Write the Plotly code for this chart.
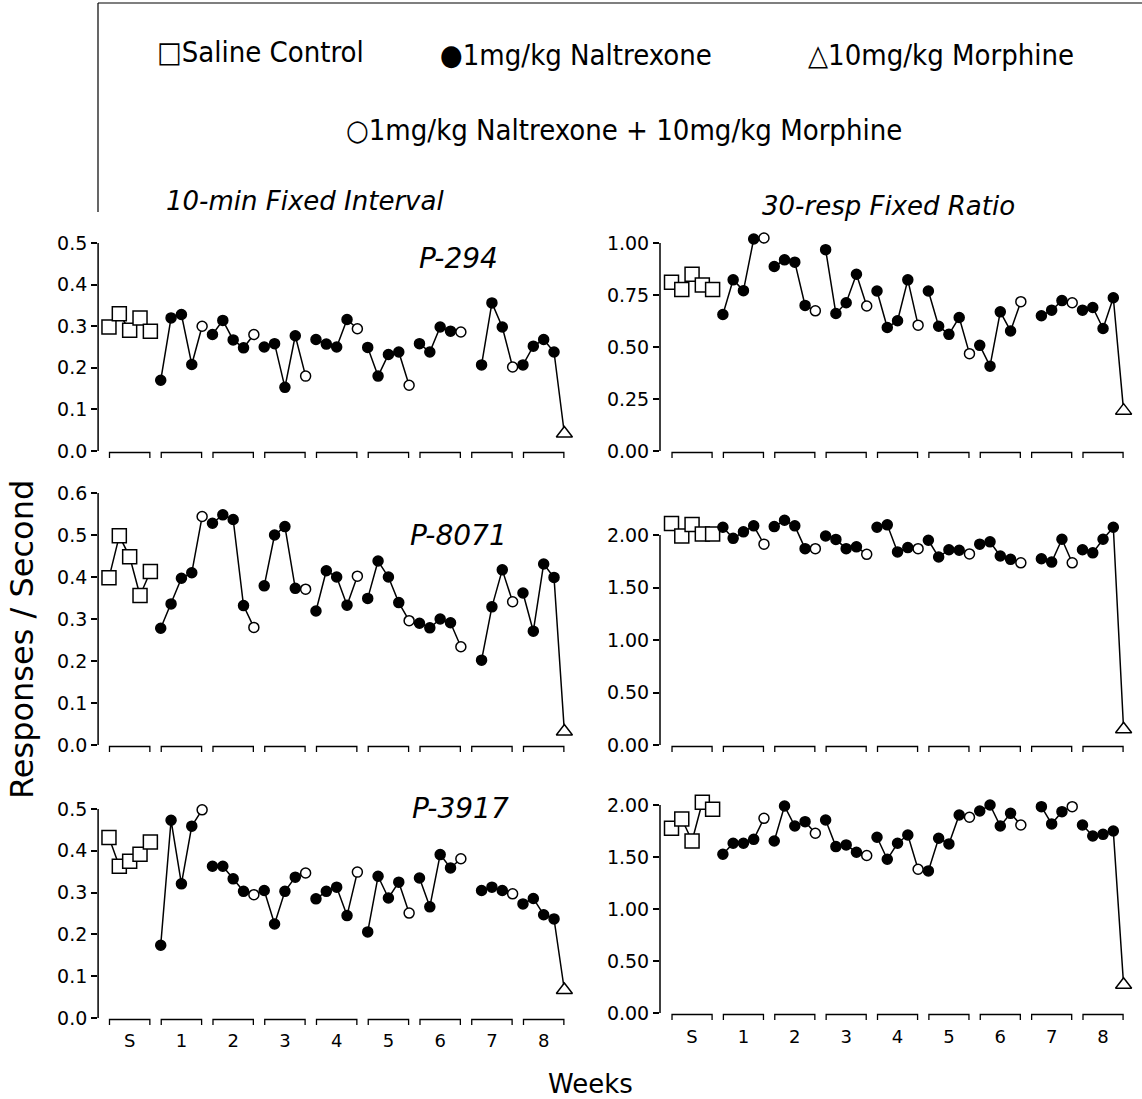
import plotly.graph_objects as go

# ---------------- data ----------------
WEEK_LABELS = ["S", "1", "2", "3", "4", "5", "6", "7", "8"]
DAYS_PER_WEEK = 5

# 10-min Fixed Interval (responses/second); 5 sessions per block, None = no session
FI_P294 = [0.298, 0.330, 0.290, 0.320, 0.288,
           0.170, 0.320, 0.328, 0.208, 0.300,
           0.280, 0.314, 0.267, 0.248, 0.280,
           0.250, 0.258, 0.153, 0.277, 0.180,
           0.268, 0.257, 0.250, 0.316, 0.294,
           0.249, 0.180, 0.232, 0.238, 0.158,
           0.258, 0.238, 0.298, 0.288, 0.286,
           None, 0.207, 0.356, 0.298, 0.202,
           0.207, 0.252, 0.268, 0.238, 0.042]
FI_P8071 = [0.398, 0.498, 0.448, 0.356, 0.413,
            0.278, 0.336, 0.397, 0.410, 0.544,
            0.528, 0.548, 0.537, 0.332, 0.280,
            0.379, 0.500, 0.520, 0.373, 0.371,
            0.319, 0.415, 0.400, 0.333, 0.402,
            0.349, 0.438, 0.400, 0.339, 0.296,
            0.290, 0.279, 0.300, 0.291, 0.234,
            None, 0.202, 0.329, 0.417, 0.341,
            0.362, 0.271, 0.431, 0.399, 0.032]
FI_P3917 = [0.432, 0.363, 0.375, 0.392, 0.421,
            0.174, 0.473, 0.321, 0.459, 0.498,
            0.363, 0.363, 0.333, 0.303, 0.295,
            0.305, 0.225, 0.303, 0.337, 0.347,
            0.285, 0.303, 0.313, 0.245, 0.349,
            0.206, 0.339, 0.287, 0.325, 0.251,
            0.335, 0.266, 0.391, 0.359, 0.381,
            None, 0.305, 0.313, 0.305, 0.297,
            0.273, 0.286, 0.247, 0.237, 0.067]

# 30-resp Fixed Ratio (responses/second)
FR_P294 = [0.811, 0.777, 0.850, 0.798, 0.777,
           0.656, 0.823, 0.771, 1.019, 1.024,
           0.887, 0.919, 0.908, 0.700, 0.674,
           0.968, 0.661, 0.713, 0.850, 0.697,
           0.769, 0.594, 0.626, 0.823, 0.605,
           0.769, 0.600, 0.561, 0.642, 0.468,
           0.508, 0.408, 0.669, 0.577, 0.718,
           None, 0.650, 0.677, 0.723, 0.713,
           0.677, 0.690, 0.589, 0.737, 0.194]
FR_P8071 = [2.11, 1.99, 2.10, 2.01, 2.01,
            2.074, 1.968, 2.030, 2.087, 1.913,
            2.080, 2.140, 2.087, 1.870, 1.870,
            1.990, 1.958, 1.870, 1.887, 1.816,
            2.074, 2.097, 1.839, 1.880, 1.870,
            1.950, 1.790, 1.860, 1.855, 1.820,
            1.913, 1.935, 1.800, 1.768, 1.735,
            None, 1.774, 1.742, 1.960, 1.735,
            1.860, 1.830, 1.960, 2.074, 0.150]
FR_P3917 = [1.776, 1.865, 1.654, 2.026, 1.960,
            1.526, 1.632, 1.632, 1.670, 1.872,
            1.654, 1.990, 1.798, 1.840, 1.728,
            1.856, 1.600, 1.616, 1.546, 1.514,
            1.690, 1.478, 1.632, 1.712, 1.382,
            1.366, 1.680, 1.626, 1.904, 1.882,
            1.942, 2.000, 1.798, 1.920, 1.808,
            None, 1.984, 1.818, 1.936, 1.984,
            1.808, 1.702, 1.718, 1.750, 0.272]

SUBJECTS = ["P-294", "P-8071", "P-3917"]
FI_TICKS = [[0.0, 0.1, 0.2, 0.3, 0.4, 0.5],
            [0.0, 0.1, 0.2, 0.3, 0.4, 0.5, 0.6],
            [0.0, 0.1, 0.2, 0.3, 0.4, 0.5]]
FR_TICKS = [[0.0, 0.25, 0.5, 0.75, 1.0],
            [0.0, 0.5, 1.0, 1.5, 2.0],
            [0.0, 0.5, 1.0, 1.5, 2.0]]

# ---------------- layout helpers ----------------
W, H = 1142, 1099
FONT = "DejaVu Sans"
NARROW = "DejaVu Sans Condensed, Liberation Sans Narrow, DejaVu Sans"


def px_x(p):
    return p / W


def px_y(p):
    return 1 - p / H


# per panel: (series, ticks, tick decimals, zero px, ref px, ref value, top px, bottom px, column)
panels = [
    (FI_P294, FI_TICKS[0], 1, 451, 243, 0.5, 222, 463, 0),
    (FR_P294, FR_TICKS[0], 2, 451, 243, 1.0, 222, 463, 1),
    (FI_P8071, FI_TICKS[1], 1, 745, 535, 0.5, 478, 757, 0),
    (FR_P8071, FR_TICKS[1], 2, 745, 535, 2.0, 478, 757, 1),
    (FI_P3917, FI_TICKS[2], 1, 1018, 809, 0.5, 788, 1028, 0),
    (FR_P3917, FR_TICKS[2], 2, 1013, 805, 2.0, 783, 1024, 1),
]
# columns: pixel left, pixel right, x range
COLS = [(98.1, 579.9, [-1.05, 45.5]), (660.0, 1139.0, [-1.12, 45.5])]

fig = go.Figure()
shapes = []
layout = {}

n_groups = len(WEEK_LABELS)

for i, (vals, ticks, dec, zero, refpx, refval, ptop, pbot, col) in enumerate(panels):
    k = (zero - refpx) / refval  # px per unit
    lo = -(pbot - zero) / k
    hi = (zero - ptop) / k
    xl, xr, xrng = COLS[col]
    ax = "" if i == 0 else str(i + 1)
    xname, yname = "x" + ax, "y" + ax
    bottom_row = i >= 4

    layout["xaxis" + ax] = dict(
        domain=[px_x(xl), px_x(xr)], range=xrng, anchor=yname,
        showline=False, showgrid=False, zeroline=False, ticks="",
        tickmode="array",
        tickvals=[g * DAYS_PER_WEEK + 2 for g in range(n_groups)],
        ticktext=WEEK_LABELS, showticklabels=bottom_row,
        tickfont=dict(family=FONT, size=18, color="black"),
    )
    layout["yaxis" + ax] = dict(
        domain=[px_y(pbot), px_y(ptop)], range=[lo, hi], anchor=xname,
        showline=False, showgrid=False, zeroline=False,
        tickmode="array", tickvals=ticks,
        ticktext=[f"{t:.{dec}f}" for t in ticks],
        ticks="outside", ticklen=6, tickwidth=1.5, tickcolor="black",
        tickfont=dict(family=FONT, size=19, color="black"),
    )
    # y axis line from 0 to the top tick
    shapes.append(dict(type="line", xref=xname + " domain", yref=yname,
                       x0=0, x1=0, y0=0, y1=ticks[-1],
                       line=dict(color="black", width=1.5)))
    # week brackets below the data
    yb_top = -1.5 / k
    yb_bot = -7.0 / k
    for g in range(n_groups):
        a = g * DAYS_PER_WEEK + 0.05
        b = g * DAYS_PER_WEEK + DAYS_PER_WEEK - 1 - 0.05
        shapes.append(dict(type="path", xref=xname, yref=yname,
                           path=f"M {a},{yb_bot} L {a},{yb_top} L {b},{yb_top} L {b},{yb_bot}",
                           line=dict(color="black", width=1.3)))

    # connecting lines within each block
    lx, ly = [], []
    for g in range(n_groups):
        for d in range(DAYS_PER_WEEK):
            s = g * DAYS_PER_WEEK + d
            lx.append(s)
            ly.append(vals[s])
        lx.append(None)
        ly.append(None)
    fig.add_trace(go.Scatter(x=lx, y=ly, mode="lines", xaxis=xname, yaxis=yname,
                             line=dict(color="black", width=1.5),
                             showlegend=False, hoverinfo="skip", cliponaxis=False))

    sq, fil, opn, tri = ([], []), ([], []), ([], []), ([], [])
    for s, v in enumerate(vals):
        if v is None:
            continue
        g, d = divmod(s, DAYS_PER_WEEK)
        if g == 0:
            tgt = sq
        elif d < DAYS_PER_WEEK - 1:
            tgt = fil
        elif g == n_groups - 1:
            tgt = tri
        else:
            tgt = opn
        tgt[0].append(s)
        tgt[1].append(v)

    def add_markers(pts, symbol, size, fill):
        fig.add_trace(go.Scatter(
            x=pts[0], y=pts[1], mode="markers", xaxis=xname, yaxis=yname,
            marker=dict(symbol=symbol, size=size, color=fill,
                        line=dict(color="black", width=1.5)),
            showlegend=False, cliponaxis=False))

    add_markers(sq, "square", 14, "white")
    add_markers(fil, "circle", 10, "black")
    add_markers(opn, "circle", 10, "white")
    add_markers(tri, "triangle-up", 14, "white")

# legend frame lines
shapes.append(dict(type="line", xref="paper", yref="paper",
                   x0=px_x(98), x1=px_x(98), y0=px_y(3), y1=px_y(212),
                   line=dict(color="black", width=1.2)))
shapes.append(dict(type="line", xref="paper", yref="paper",
                   x0=px_x(98), x1=1, y0=px_y(3), y1=px_y(3),
                   line=dict(color="black", width=1.2)))

ann = []


def text(s, x, y, size, italic=False, family=NARROW, xanchor="center", angle=0):
    ann.append(dict(text=(f"<i>{s}</i>" if italic else s), x=px_x(x), y=px_y(y),
                    xref="paper", yref="paper", showarrow=False,
                    xanchor=xanchor, yanchor="middle", textangle=angle,
                    font=dict(family=family, size=size, color="black")))


text("□Saline Control", 155, 52, 29, xanchor="left")
text("●1mg/kg Naltrexone", 438, 55, 29, xanchor="left")
text("△10mg/kg Morphine", 806, 55, 29, xanchor="left")
text("○1mg/kg Naltrexone + 10mg/kg Morphine", 624, 130, 29)
text("10-min Fixed Interval", 305, 201, 26, italic=True, family=FONT)
text("30-resp Fixed Ratio", 888, 206, 26, italic=True, family=FONT)
text(SUBJECTS[0], 458, 258, 28, italic=True, family=FONT)
text(SUBJECTS[1], 458, 536, 28, italic=True, family=FONT)
text(SUBJECTS[2], 460, 808, 28, italic=True, family=FONT)
text("Responses / Second", 22, 640, 32, family=FONT, angle=-90)
text("Weeks", 590, 1084, 26, family=FONT)

layout.update(dict(
    width=W, height=H, margin=dict(l=0, r=0, t=0, b=0),
    paper_bgcolor="white", plot_bgcolor="white",
    showlegend=False, annotations=ann, shapes=shapes,
))
fig.update_layout(**layout)
fig.write_html("out.html", config={"displayModeBar": False},
               post_script="document.body.style.margin='0';")
